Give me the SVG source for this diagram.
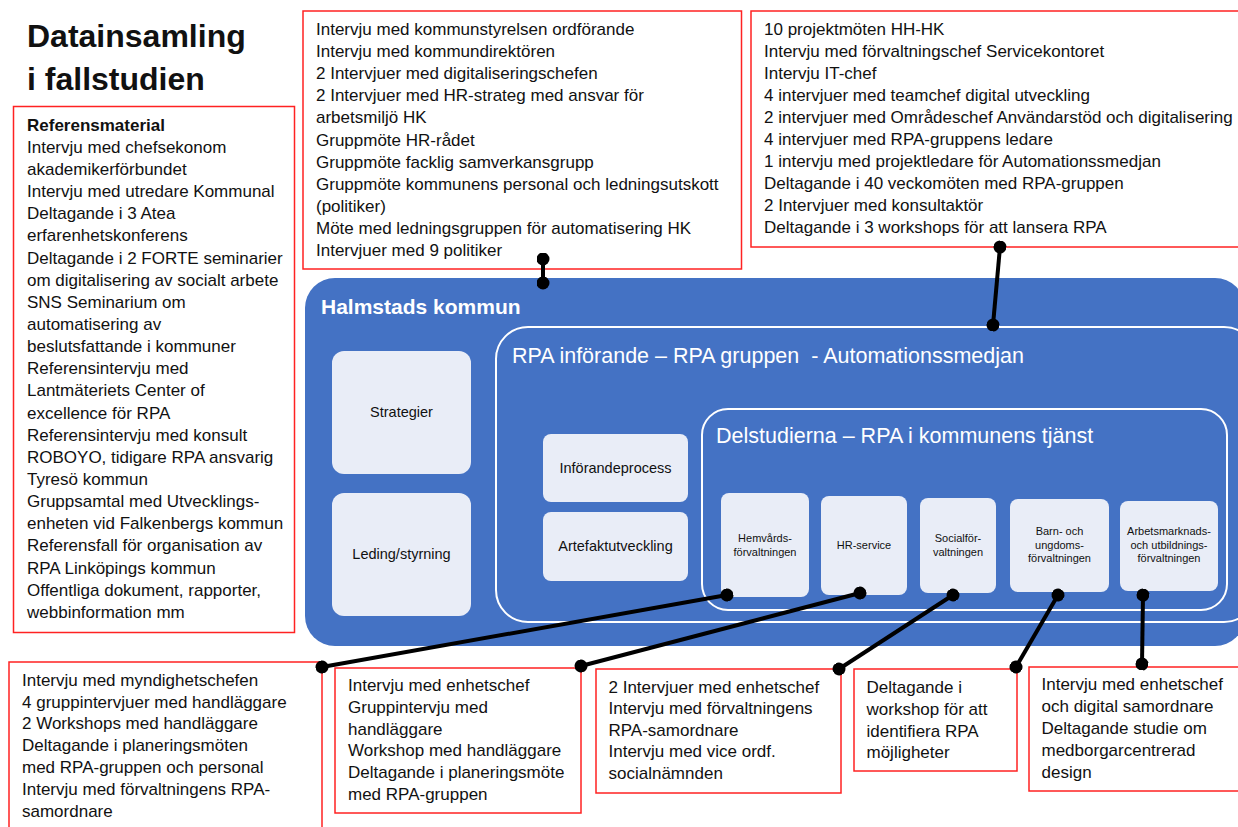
<svg xmlns="http://www.w3.org/2000/svg" width="1238" height="827" viewBox="0 0 1238 827">
<defs>
<style>
text{font-family:"Liberation Sans",Arial,sans-serif;fill:#111;}
.title{font-size:32px;font-weight:bold;}
.list{font-size:17px;}
.redbox{fill:#fff;stroke:#f22;stroke-width:1.5;}
.light{fill:#E9EDF7;}
.lbl{font-size:14.5px;text-anchor:middle;}
.sm{font-size:11px;text-anchor:middle;}
.outline{fill:none;stroke:#fff;stroke-width:2;}
.wt{fill:#fff;white-space:pre;}
.conn{stroke:#000;stroke-width:4;fill:none;marker-start:url(#dot);marker-end:url(#dot);}
</style>
<marker id="dot" viewBox="0 0 12 12" refX="6" refY="6" markerWidth="13" markerHeight="13" markerUnits="userSpaceOnUse" orient="auto"><circle cx="6" cy="6" r="6" fill="#000"/></marker>
</defs>
<rect width="1238" height="827" fill="#fff"/>

<g id="title">
<text class="title" x="27" y="47">Datainsamling</text>
<text class="title" x="27" y="90">i fallstudien</text>
</g>

<g id="referensmaterial">
<rect class="redbox" x="13.5" y="106.5" width="281" height="526"/>
<text class="list" x="27" y="130.7">
<tspan x="27" font-weight="bold">Referensmaterial</tspan>
<tspan x="27" dy="22.14">Intervju med chefsekonom</tspan>
<tspan x="27" dy="22.14">akademikerförbundet</tspan>
<tspan x="27" dy="22.14">Intervju med utredare Kommunal</tspan>
<tspan x="27" dy="22.14">Deltagande i 3 Atea</tspan>
<tspan x="27" dy="22.14">erfarenhetskonferens</tspan>
<tspan x="27" dy="22.14">Deltagande i 2 FORTE seminarier</tspan>
<tspan x="27" dy="22.14">om digitalisering av socialt arbete</tspan>
<tspan x="27" dy="22.14">SNS Seminarium om</tspan>
<tspan x="27" dy="22.14">automatisering av</tspan>
<tspan x="27" dy="22.14">beslutsfattande i kommuner</tspan>
<tspan x="27" dy="22.14">Referensintervju med</tspan>
<tspan x="27" dy="22.14">Lantmäteriets Center of</tspan>
<tspan x="27" dy="22.14">excellence för RPA</tspan>
<tspan x="27" dy="22.14">Referensintervju med konsult</tspan>
<tspan x="27" dy="22.14">ROBOYO, tidigare RPA ansvarig</tspan>
<tspan x="27" dy="22.14">Tyresö kommun</tspan>
<tspan x="27" dy="22.14">Gruppsamtal med Utvecklings-</tspan>
<tspan x="27" dy="22.14">enheten vid Falkenbergs kommun</tspan>
<tspan x="27" dy="22.14">Referensfall för organisation av</tspan>
<tspan x="27" dy="22.14">RPA Linköpings kommun</tspan>
<tspan x="27" dy="22.14">Offentliga dokument, rapporter,</tspan>
<tspan x="27" dy="22.14">webbinformation mm</tspan>
</text>
</g>

<g id="ledning">
<rect class="redbox" x="303" y="11" width="438.5" height="258"/>
<text class="list" x="316" y="35">
<tspan x="316">Intervju med kommunstyrelsen ordförande</tspan>
<tspan x="316" dy="22.1">Intervju med kommundirektören</tspan>
<tspan x="316" dy="22.1">2 Intervjuer med digitaliseringschefen</tspan>
<tspan x="316" dy="22.1">2 Intervjuer med HR-strateg med ansvar för</tspan>
<tspan x="316" dy="22.1">arbetsmiljö HK</tspan>
<tspan x="316" dy="22.1">Gruppmöte HR-rådet</tspan>
<tspan x="316" dy="22.1">Gruppmöte facklig samverkansgrupp</tspan>
<tspan x="316" dy="22.1">Gruppmöte kommunens personal och ledningsutskott</tspan>
<tspan x="316" dy="22.1">(politiker)</tspan>
<tspan x="316" dy="22.1">Möte med ledningsgruppen för automatisering HK</tspan>
<tspan x="316" dy="22.1">Intervjuer med 9 politiker</tspan>
</text>
</g>

<g id="rpagruppen-data">
<rect class="redbox" x="751" y="11" width="500" height="236"/>
<text class="list" x="764" y="35">
<tspan x="764">10 projektmöten HH-HK</tspan>
<tspan x="764" dy="22.04">Intervju med förvaltningschef Servicekontoret</tspan>
<tspan x="764" dy="22.04">Intervju IT-chef</tspan>
<tspan x="764" dy="22.04">4 intervjuer med teamchef digital utveckling</tspan>
<tspan x="764" dy="22.04">2 intervjuer med Områdeschef Användarstöd och digitalisering</tspan>
<tspan x="764" dy="22.04">4 intervjuer med RPA-gruppens ledare</tspan>
<tspan x="764" dy="22.04">1 intervju med projektledare för Automationssmedjan</tspan>
<tspan x="764" dy="22.04">Deltagande i 40 veckomöten med RPA-gruppen</tspan>
<tspan x="764" dy="22.04">2 Intervjuer med konsultaktör</tspan>
<tspan x="764" dy="22.04">Deltagande i 3 workshops för att lansera RPA</tspan>
</text>
</g>

<g id="halmstads-kommun">
<rect x="305" y="278" width="940" height="368" rx="30" fill="#4472C4"/>
<text class="wt" x="321" y="314" font-size="21" font-weight="bold">Halmstads kommun</text>
</g>

<g id="strategier">
<rect class="light" x="332" y="351" width="139" height="123" rx="12"/>
<text class="lbl" x="401.5" y="417">Strategier</text>
</g>
<g id="ledning-styrning">
<rect class="light" x="332" y="493" width="139" height="123" rx="12"/>
<text class="lbl" x="401.5" y="559">Leding/styrning</text>
</g>

<g id="rpa-inforande">
<rect class="outline" x="496" y="327" width="760" height="295" rx="32"/>
<text class="wt" x="512" y="363" font-size="21.5">RPA införande – RPA gruppen  - Automationssmedjan</text>
</g>

<g id="inforandeprocess">
<rect class="light" x="543" y="434" width="145" height="68" rx="8"/>
<text class="lbl" x="615.5" y="473">Införandeprocess</text>
</g>
<g id="artefaktutveckling">
<rect class="light" x="543" y="512" width="145" height="69" rx="8"/>
<text class="lbl" x="615.5" y="551">Artefaktutveckling</text>
</g>

<g id="delstudierna">
<rect class="outline" x="702" y="409" width="525" height="201" rx="26"/>
<text class="wt" x="716" y="443" font-size="21.5">Delstudierna – RPA i kommunens tjänst</text>
</g>

<g id="hemvard">
<rect class="light" x="721" y="493" width="88" height="104" rx="8"/>
<text class="sm" x="765" y="542"><tspan x="765">Hemvårds-</tspan><tspan x="765" dy="14">förvaltningen</tspan></text>
</g>
<g id="hr-service">
<rect class="light" x="821" y="496" width="86" height="99" rx="8"/>
<text class="sm" x="864" y="549">HR-service</text>
</g>
<g id="social">
<rect class="light" x="920" y="498" width="76" height="95" rx="8"/>
<text class="sm" x="958" y="542"><tspan x="958">Socialför-</tspan><tspan x="958" dy="14">valtningen</tspan></text>
</g>
<g id="barn-ungdom">
<rect class="light" x="1010" y="499" width="99" height="93" rx="8"/>
<text class="sm" x="1059.5" y="535"><tspan x="1059.5">Barn- och</tspan><tspan x="1059.5" dy="13.7">ungdoms-</tspan><tspan x="1059.5" dy="13.7">förvaltningen</tspan></text>
</g>
<g id="arbetsmarknad">
<rect class="light" x="1120" y="501" width="98" height="90" rx="8"/>
<text class="sm" x="1169" y="535"><tspan x="1169">Arbetsmarknads-</tspan><tspan x="1169" dy="13.7">och utbildnings-</tspan><tspan x="1169" dy="13.7">förvaltningen</tspan></text>
</g>

<g id="hemvard-data">
<rect class="redbox" x="9" y="662" width="313" height="180"/>
<text class="list" x="22" y="685.7">
<tspan x="22">Intervju med myndighetschefen</tspan>
<tspan x="22" dy="21.8">4 gruppintervjuer med handläggare</tspan>
<tspan x="22" dy="21.8">2 Workshops med handläggare</tspan>
<tspan x="22" dy="21.8">Deltagande i planeringsmöten</tspan>
<tspan x="22" dy="21.8">med RPA-gruppen och personal</tspan>
<tspan x="22" dy="21.8">Intervju med förvaltningens RPA-</tspan>
<tspan x="22" dy="21.8">samordnare</tspan>
</text>
</g>

<g id="hr-data">
<rect class="redbox" x="335" y="668" width="246" height="145"/>
<text class="list" x="348" y="691">
<tspan x="348">Intervju med enhetschef</tspan>
<tspan x="348" dy="21.8">Gruppintervju med</tspan>
<tspan x="348" dy="21.8">handläggare</tspan>
<tspan x="348" dy="21.8">Workshop med handläggare</tspan>
<tspan x="348" dy="21.8">Deltagande i planeringsmöte</tspan>
<tspan x="348" dy="21.8">med RPA-gruppen</tspan>
</text>
</g>

<g id="social-data">
<rect class="redbox" x="596" y="669" width="245" height="124"/>
<text class="list" x="608.5" y="692.7">
<tspan x="608.5">2 Intervjuer med enhetschef</tspan>
<tspan x="608.5" dy="21.5">Intervju med förvaltningens</tspan>
<tspan x="608.5" dy="21.5">RPA-samordnare</tspan>
<tspan x="608.5" dy="21.5">Intervju med vice ordf.</tspan>
<tspan x="608.5" dy="21.5">socialnämnden</tspan>
</text>
</g>

<g id="barn-data">
<rect class="redbox" x="854" y="669" width="163" height="102"/>
<text class="list" x="866.5" y="692.7">
<tspan x="866.5">Deltagande i</tspan>
<tspan x="866.5" dy="21.9">workshop för att</tspan>
<tspan x="866.5" dy="21.9">identifiera RPA</tspan>
<tspan x="866.5" dy="21.9">möjligheter</tspan>
</text>
</g>

<g id="arbetsmarknad-data">
<rect class="redbox" x="1029" y="667" width="230" height="124"/>
<text class="list" x="1041.5" y="690">
<tspan x="1041.5">Intervju med enhetschef</tspan>
<tspan x="1041.5" dy="21.9">och digital samordnare</tspan>
<tspan x="1041.5" dy="21.9">Deltagande studie om</tspan>
<tspan x="1041.5" dy="21.9">medborgarcentrerad</tspan>
<tspan x="1041.5" dy="21.9">design</tspan>
</text>
</g>

<g id="connectors">
<line class="conn" x1="543" y1="259" x2="543" y2="283"/>
<line class="conn" x1="1000" y1="247" x2="993" y2="325"/>
<line class="conn" x1="727" y1="595" x2="322" y2="667"/>
<line class="conn" x1="860" y1="593" x2="581" y2="666"/>
<line class="conn" x1="953" y1="595" x2="839" y2="669"/>
<line class="conn" x1="1058" y1="595" x2="1016" y2="667"/>
<line class="conn" x1="1143" y1="595" x2="1142" y2="664"/>
</g>
</svg>
